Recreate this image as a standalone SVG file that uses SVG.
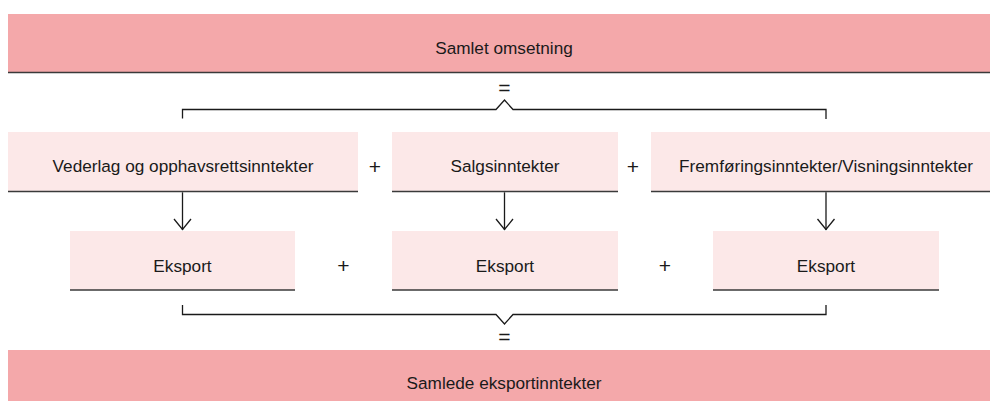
<svg xmlns="http://www.w3.org/2000/svg" width="990" height="401" viewBox="0 0 990 401">
  <defs>
    <style>
      .bar { fill: #F4A8AA; }
      .box { fill: #FCE8E8; }
      .base { stroke: #3a3a3a; stroke-width: 1.5; fill: none; }
      .lbl { font-family: "Liberation Sans", Arial, sans-serif; font-size: 17.2px; fill: #1a1a1a; text-anchor: middle; }
      .op { font-family: "Liberation Sans", Arial, sans-serif; font-size: 21px; fill: #1a1a1a; text-anchor: middle; }
      .conn { stroke: #1a1a1a; stroke-width: 1.3; fill: none; }
    </style>
    <marker id="arr" viewBox="0 0 14 20" refX="12.5" refY="10" markerWidth="14" markerHeight="20" markerUnits="userSpaceOnUse" orient="auto">
      <path d="M1.5,1.5 L12,10 L1.5,18.5" fill="none" stroke="#1a1a1a" stroke-width="1.3"/>
    </marker>
  </defs>

  <g id="samlet-omsetning">
    <rect class="bar" x="8" y="14" width="982" height="58"/>
    <line class="base" x1="8" y1="72.5" x2="990" y2="72.5"/>
    <text class="lbl" x="504" y="54">Samlet omsetning</text>
  </g>

  <g id="vederlag">
    <rect class="box" x="8" y="132" width="350" height="59.5"/>
    <line class="base" x1="8" y1="191.5" x2="358" y2="191.5"/>
    <text class="lbl" x="183" y="172.3">Vederlag og opphavsrettsinntekter</text>
  </g>

  <g id="salgsinntekter">
    <rect class="box" x="392" y="132" width="226" height="59.5"/>
    <line class="base" x1="392" y1="191.5" x2="618" y2="191.5"/>
    <text class="lbl" x="505" y="172.3">Salgsinntekter</text>
  </g>

  <g id="fremforingsinntekter">
    <rect class="box" x="651" y="132" width="339" height="59.5"/>
    <line class="base" x1="651" y1="191.5" x2="990" y2="191.5"/>
    <text class="lbl" x="826" y="172.3">Fremføringsinntekter/Visningsinntekter</text>
  </g>

  <g id="eksport-1">
    <rect class="box" x="70" y="231" width="225" height="59"/>
    <line class="base" x1="70" y1="290" x2="295" y2="290"/>
    <text class="lbl" x="182.5" y="271.5">Eksport</text>
  </g>

  <g id="eksport-2">
    <rect class="box" x="392" y="231" width="226" height="59"/>
    <line class="base" x1="392" y1="290" x2="618" y2="290"/>
    <text class="lbl" x="505" y="271.5">Eksport</text>
  </g>

  <g id="eksport-3">
    <rect class="box" x="713" y="231" width="226" height="59"/>
    <line class="base" x1="713" y1="290" x2="939" y2="290"/>
    <text class="lbl" x="826" y="271.5">Eksport</text>
  </g>

  <g id="samlede-eksportinntekter">
    <rect class="bar" x="8" y="350" width="982" height="58"/>
    <text class="lbl" x="504" y="388.5">Samlede eksportinntekter</text>
  </g>

  <g id="connectors">
    <path class="conn" d="M182.5,118.5 V109.5 H496 L504.5,100 L513,109.5 H826 V119"/>
    <line class="conn" x1="182.5" y1="192.3" x2="182.5" y2="230" marker-end="url(#arr)"/>
    <line class="conn" x1="504.5" y1="192.3" x2="504.5" y2="230" marker-end="url(#arr)"/>
    <line class="conn" x1="826" y1="192.3" x2="826" y2="230" marker-end="url(#arr)"/>
    <path class="conn" d="M182.5,305 V314.5 H496 L504.5,324 L513,314.5 H826 V305"/>
  </g>

  <g id="operators">
    <text class="op" x="504.5" y="95">=</text>
    <text class="op" x="375" y="173.7">+</text>
    <text class="op" x="633" y="173.7">+</text>
    <text class="op" x="343.5" y="273">+</text>
    <text class="op" x="665" y="273">+</text>
    <text class="op" x="504.5" y="343.5">=</text>
  </g>
</svg>
